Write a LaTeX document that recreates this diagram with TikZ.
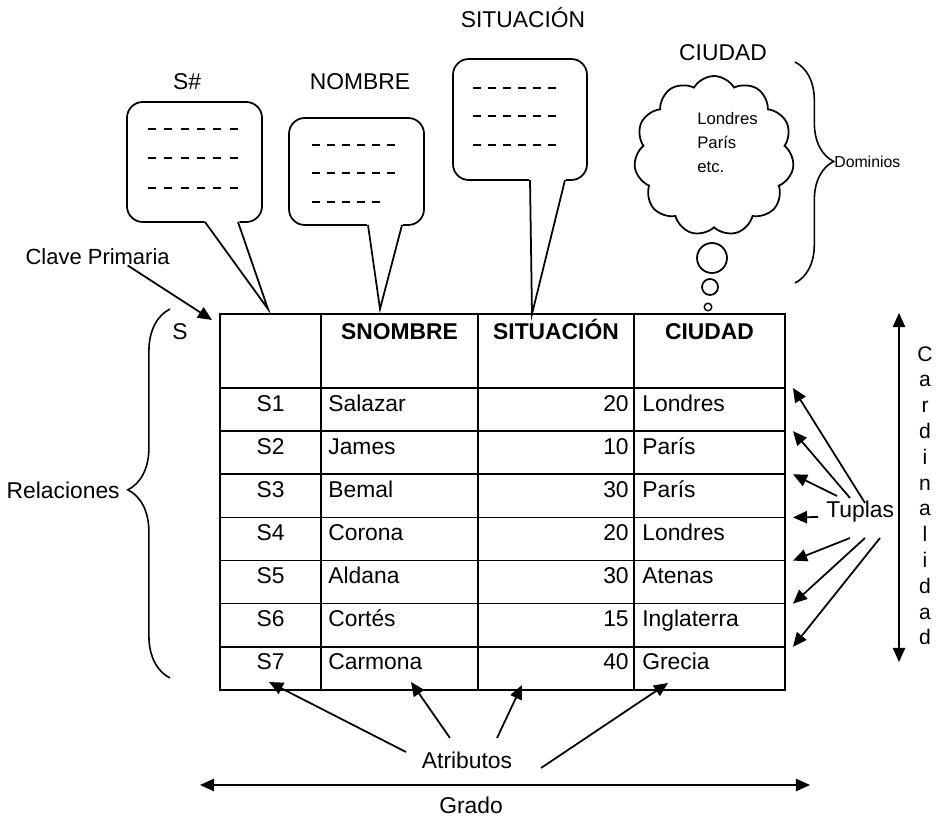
\documentclass[tikz,border=0pt]{standalone}
\usepackage{fontspec}
\setmainfont{Liberation Sans}
\usetikzlibrary{positioning,arrows.meta,shapes.symbols,decorations.pathreplacing}
\tikzset{
  txt/.style={inner sep=0pt, font=\fontsize{13}{15.6}\selectfont},
  hdr/.style={inner sep=0pt, font=\fontsize{13}{15.6}\selectfont\bfseries},
  bubble/.style={draw, line width=1pt, rounded corners=9pt},
  rayas/.style={line width=1.3pt, dash pattern=on 4.5pt off 4pt},
  rejilla/.style={line width=0.9pt},
  nube/.style={cloud, draw, line width=1pt, cloud puffs=11, cloud puff arc=120,
    aspect=1, minimum width=3.2cm, minimum height=3.2cm, inner sep=0pt},
  arrowstyle/.style={-{Triangle[length=8pt,width=7pt]}, line width=1pt},
  dblarrow/.style={{Triangle[length=8pt,width=7pt]}-{Triangle[length=8pt,width=7pt]}, line width=0.9pt},
  bracestyle/.style={decorate, line width=0.9pt}
}
% globo: left, top, right, bottom, tail left x, tail right x, tip
\newcommand{\globo}[7]{%
  \draw[bubble] (#1,#2) rectangle (#3,#4);
  \fill[white] (#5-1,#4-1.5) -- (#7) -- (#6+1,#4-1.5) -- cycle;
  \draw[line width=1pt] (#5,#4) -- (#7) -- (#6,#4);}

\begin{document}
\begin{tikzpicture}[x=0.02cm, y=-0.02cm]
  \useasboundingbox (0,0) rectangle (943,817);
  % dominios
  \globo{127}{102}{262}{222}{205}{238}{268,309}
  \globo{289}{118}{424}{225}{368}{402}{380,309}
  \globo{453}{59}{587}{180}{530}{565}{532,314}
  \foreach \y in {129,158,188} \draw[rayas, dash pattern=on 4.5pt off 4.8pt] (148,\y) -- (238,\y);
  \draw[rayas] (312,145) -- (395,145);
  \draw[rayas] (312,173) -- (395,173);
  \draw[rayas] (312,202) -- (380,202);
  \foreach \y in {88,116,145} \draw[rayas] (473,\y) -- (556,\y);
  \node[txt] (dsn) at (187,82) {S\#};
  \node[txt] (dnombre) at (360,82) {NOMBRE};
  \node[txt] (dsit) at (523,18) {SITUACIÓN};
  \node[txt] (dciudad) at (723,53) {CIUDAD};
  \node[nube] (ciudades) at (714,156) {};
  \node[txt, font=\fontsize{9.5}{13.6}\selectfont, align=left, anchor=north west] (ciudadtxt) at (697,112) {Londres\\París\\etc.};
  \node[circle, draw, line width=1pt, minimum size=0.6cm, inner sep=0pt] (b1) at (712,258) {};
  \node[circle, draw, line width=1pt, minimum size=0.32cm, inner sep=0pt] (b2) at (710,287) {};
  \node[circle, draw, line width=0.8pt, minimum size=0.15cm, inner sep=0pt] (b3) at (708,307) {};
  \draw[bracestyle, decoration={brace, amplitude=22pt, aspect=0.45}] (795,62) -- (795,283);
  \node[txt, anchor=west, font=\fontsize{9}{11}\selectfont] (dominios) at (834,162) {Dominios};

  % relacion S
  \draw[rejilla] (220,314) rectangle (785,690);
  \coordinate (tnw) at (220,314);
  \foreach \x in {321,478,634} \draw[rejilla] (\x,314) -- (\x,690);
  \draw[rejilla] (220,388) -- (785,388);
  \foreach \k in {1,...,6} \draw[rejilla] (220,{388+43.14*\k}) -- (785,{388+43.14*\k});
  \node[hdr, anchor=base] (hnombre) at (399.5,340) {SNOMBRE};
  \node[hdr, anchor=base] (hsit) at (556,340) {SITUACIÓN};
  \node[hdr, anchor=base] (hciudad) at (709.5,340) {CIUDAD};
  \foreach \sid/\nom/\num/\city [count=\i] in {S1/Salazar/20/Londres, S2/James/10/París,
      S3/Bemal/30/París, S4/Corona/20/Londres, S5/Aldana/30/Atenas,
      S6/Cortés/15/Inglaterra, S7/Carmona/40/Grecia} {
    \pgfmathsetmacro{\yb}{388+43.14*(\i-1)+23}
    \node[txt, anchor=base] (sid\i) at (270.5,\yb) {\sid};
    \node[txt, anchor=base west] (nom\i) at (328,\yb) {\nom};
    \node[txt, anchor=base east] (num\i) at (629,\yb) {\num};
    \node[txt, anchor=base west] (city\i) at (642,\yb) {\city};
  }

  % izquierda
  \node[txt] (srel) at (180,332) {S};
  \draw[bracestyle, decoration={brace, amplitude=24pt, aspect=0.51}] (170,678) -- (170,309);
  \node[txt, anchor=east] (relac) at (120,490) {Relaciones};
  \node[txt, anchor=east, font=\fontsize{12.5}{15}\selectfont] (clave) at (170,257) {Clave Primaria};
  \draw[arrowstyle] ([xshift=0.6cm]clave.south) -- ([shift={(-8,6)}]tnw);

  % tuplas y cardinalidad
  \node[txt, anchor=west] (tuplas) at (826,512) {Tuplas};
  \foreach \tx/\ty [count=\i] in {865/503, 850/498, 837/496, 818/517, 850/538, 865/538, 880/538}
    \draw[arrowstyle] (\tx,\ty) -- (793,{388+43.14*(\i-1)});
  \draw[dblarrow] (899,313) -- (899,662);
  \foreach \ch [count=\i] in {C,a,r,d,i,n,a,l,i,d,a,d}
    \node[txt, anchor=base, font=\fontsize{12}{14}\selectfont] (card\i) at (925,{361+25.8*(\i-1)}) {\ch};

  % atributos y grado
  \node[txt] (atrib) at (467,760) {Atributos};
  \foreach \tx/\ty/\hx/\hy in {406/752/269/682, 450/738/411/682, 497/738/522/685, 541/768/668/683}
    \draw[arrowstyle] (\tx,\ty) -- (\hx,\hy);
  \draw[dblarrow] (200,785) -- (810,785);
  \node[txt] (grado) at (471,805) {Grado};
\end{tikzpicture}
\end{document}
